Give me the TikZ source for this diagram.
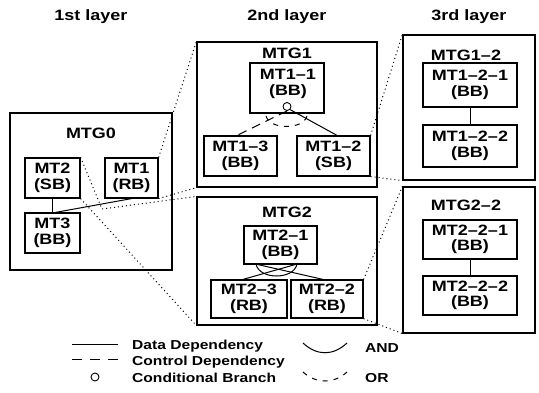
\documentclass[tikz,border=0pt]{standalone}
\usepackage{fontspec}
\setmainfont{Liberation Sans}[FakeStretch=1.2]
\begin{document}
\begin{tikzpicture}[x=1pt,y=-1pt,
  box/.style={draw, line width=1.2pt, rectangle, inner sep=0pt, align=center, font=\fontsize{15}{15.5}\selectfont\bfseries},
  grp/.style={draw, line width=1.2pt, rectangle, inner sep=0pt},
  ttl/.style={font=\fontsize{15}{15.5}\selectfont\bfseries, inner sep=0pt},
  hdr/.style={font=\fontsize{15}{16}\selectfont\bfseries, inner sep=0pt, anchor=base},
  leg/.style={font=\fontsize{13}{14}\selectfont\bfseries, inner sep=0pt, anchor=base west},
  zoomln/.style={line width=1pt, dash pattern=on 1pt off 3pt},
  dep/.style={line width=1pt},
  ctl/.style={line width=1pt, dash pattern=on 9pt off 6pt},
  orarc/.style={line width=1pt, dash pattern=on 5pt off 6pt},
  cb/.style={draw, circle, line width=0.9pt, minimum size=8pt, inner sep=0pt},
]
\useasboundingbox (0,0) rectangle (539,392);

% headers
\node[hdr] (h1) at (91,20.5) {1st layer};
\node[hdr] (h2) at (287,20.5) {2nd layer};
\node[hdr] (h3) at (469,20.5) {3rd layer};

% layer 1
\node[grp, minimum width=162, minimum height=157] (MTG0) at (91,191.5) {};
\node[ttl] (MTG0t) at (91,133) {MTG0};
\node[box, minimum width=55, minimum height=40] (MT2) at (52.5,178) {MT2\\(SB)};
\node[box, minimum width=53, minimum height=40] (MT1) at (131.5,178) {MT1\\(RB)};
\node[box, minimum width=55, minimum height=40] (MT3) at (52.5,233) {MT3\\(BB)};
\draw[dep] (MT2.south) -- (MT3.north);
\draw[dep] (MT1.south) -- ([xshift=3pt]MT3.north);

% layer 2: MTG1
\node[grp, minimum width=180, minimum height=145] (MTG1) at (287,114.5) {};
\node[ttl] (MTG1t) at (287,53) {MTG1};
\node[grp, minimum width=74, minimum height=50] (MT11) at (287,88) {};
\node[box, draw=none] (MT11t) at (288,84) {MT1–1\\(BB)};
\node[cb] (circ) at (287,106.5) {};
\node[box, minimum width=73, minimum height=40] (MT13) at (240.5,156) {MT1–3\\(BB)};
\node[box, minimum width=73, minimum height=40] (MT12) at (333.5,156) {MT1–2\\(SB)};
\draw[ctl] (circ.south) -- ([xshift=-3.5pt]MT13.north);
\draw[dep] (circ.south east) -- ([xshift=3.5pt]MT12.north);
\coordinate (or1) at (266,116);
\coordinate (or2) at (307,116);
\draw[orarc] (or1) .. controls (270,130) and (303,130) .. (or2);

% layer 2: MTG2
\node[grp, minimum width=180, minimum height=128] (MTG2) at (287,261) {};
\node[ttl] (MTG2t) at (287,212) {MTG2};
\node[box, minimum width=73, minimum height=38] (MT21) at (280.5,245) {MT2–1\\(BB)};
\node[box, minimum width=76, minimum height=38] (MT23) at (249,299) {MT2–3\\(RB)};
\node[box, minimum width=72, minimum height=38] (MT22) at (327,299) {MT2–2\\(RB)};
\draw[dep] ([xshift=-22.5pt]MT21.south) -- ([xshift=-4pt]MT22.north);
\draw[dep] ([xshift=14.5pt]MT21.south) -- ([xshift=-6pt]MT23.north);
\coordinate (and1) at (256,264);
\coordinate (and2) at (297,264);
\draw[dep] (and1) .. controls (259,280) and (294,280) .. (and2);

% layer 3: MTG1-2
\node[grp, minimum width=132, minimum height=145] (MTG12) at (469,107.5) {};
\node[ttl] (MTG12t) at (466,55) {MTG1–2};
\node[box, minimum width=94, minimum height=44] (MT121) at (470,85) {MT1–2–1\\(BB)};
\node[box, minimum width=94, minimum height=42] (MT122) at (470,146) {MT1–2–2\\(BB)};
\draw[dep] (MT121.south) -- (MT122.north);

% layer 3: MTG2-2
\node[grp, minimum width=132, minimum height=146] (MTG22) at (469,260) {};
\node[ttl] (MTG22t) at (466,205) {MTG2–2};
\node[box, minimum width=94, minimum height=39] (MT221) at (470,239.5) {MT2–2–1\\(BB)};
\node[box, minimum width=94, minimum height=39] (MT222) at (470,295.5) {MT2–2–2\\(BB)};
\draw[dep] (MT221.south) -- (MT222.north);

% zoom lines
\draw[zoomln] (MT1.north east) -- (MTG1.north west);
\draw[zoomln] (MT1.south east) -- (MTG1.south west);
\coordinate (bend) at (102,209);
\draw[zoomln] (MT2.north east) -- (bend) -- (MTG2.north west);
\draw[zoomln] (MT2.south east) -- (MTG2.south west);
\draw[zoomln] (MT12.north east) -- (MTG12.north west);
\draw[zoomln] (MT12.south east) -- (MTG12.south west);
\draw[zoomln] (MT22.north east) -- (MTG22.north west);
\draw[zoomln] (MT22.south east) -- (MTG22.south west);

% legend
\coordinate (l1a) at (72,344); \coordinate (l1b) at (118,344);
\coordinate (l2a) at (72,359); \coordinate (l2b) at (118,359);
\draw[dep] (l1a) -- (l1b);
\draw[line width=1pt, dash pattern=on 10pt off 8pt] (l2a) -- (l2b);
\node[cb] (lcirc) at (95,377) {};
\node[leg] (t1) at (132,349) {Data Dependency};
\node[leg] (t2) at (132,365) {Control Dependency};
\node[leg] (t3) at (132,382) {Conditional Branch};
\coordinate (la1) at (303,343); \coordinate (la2) at (347,343);
\draw[dep] (la1) .. controls (317,356) and (333,356) .. (la2);
\coordinate (lo1) at (303,372); \coordinate (lo2) at (347,372);
\draw[orarc] (lo1) .. controls (316,384) and (334,384) .. (lo2);
\node[leg] (tand) at (365,352) {AND};
\node[leg] (tor) at (365,382) {OR};
\end{tikzpicture}
\end{document}
